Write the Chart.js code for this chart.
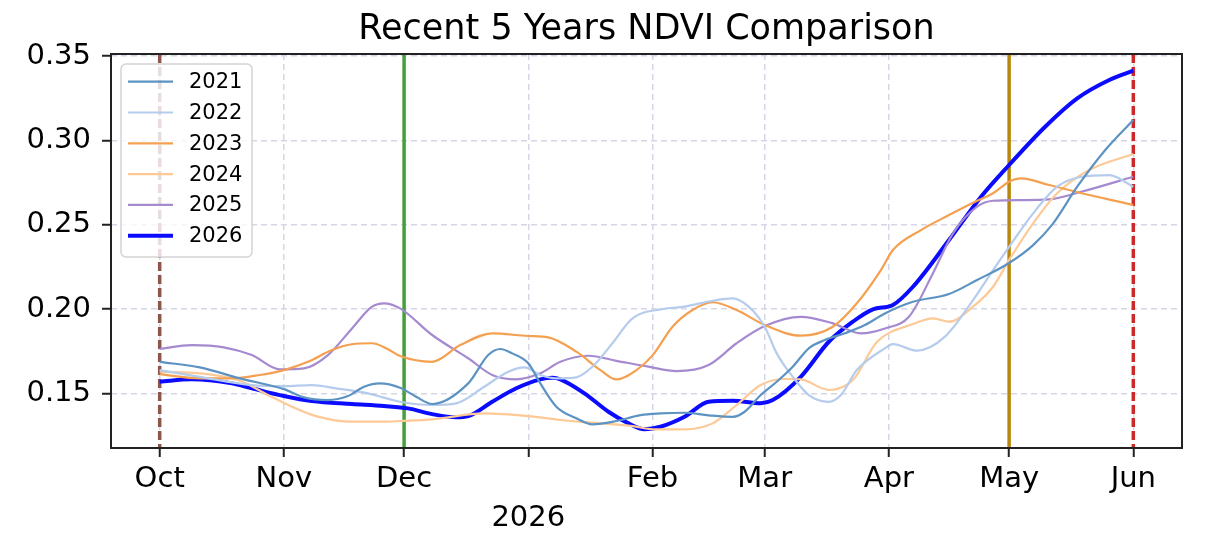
<!DOCTYPE html>
<html>
<head>
<meta charset="utf-8">
<script src="https://cdn.jsdelivr.net/npm/chart.js@4.4.1/dist/chart.umd.min.js"></script>
<style>
  html, body { margin: 0; padding: 0; background: #fff; }
  #wrap { width: 1208px; height: 544px; }
</style>
</head>
<body>
<div id="wrap"><canvas id="ndviChart"></canvas></div>
<script>
// days counted from Oct 1 (2025-10-01 = 0, 2026-06-01 = 243)
const monthTickDays = [0, 31, 61, 92, 123, 151, 182, 212, 243];
const monthTickLabels = ['Oct', 'Nov', 'Dec', ['', '2026'], 'Feb', 'Mar', 'Apr', 'May', 'Jun'];
const yTickValues = [0.15, 0.20, 0.25, 0.30, 0.35];

const seriesLabels = ['2021', '2022', '2023', '2024', '2025', '2026'];

const days2021 = [0, 10, 20, 31, 36, 42, 47, 51, 55, 60, 64, 68, 77, 82, 85, 88, 92, 95, 99, 104, 108, 114, 120, 125, 131, 137, 143, 146, 150, 154, 158, 162, 166, 171, 176, 181, 188, 197, 204, 212, 218, 223, 229, 236, 243];
const ndvi2021 = [0.1687, 0.1654, 0.1589, 0.1525, 0.1476, 0.1460, 0.1484, 0.1539, 0.1559, 0.1533, 0.1480, 0.1437, 0.1559, 0.1727, 0.1763, 0.1737, 0.1678, 0.1559, 0.1421, 0.1352, 0.1316, 0.1336, 0.1371, 0.1381, 0.1385, 0.1370, 0.1361, 0.1391, 0.1490, 0.1569, 0.1658, 0.1767, 0.1816, 0.1856, 0.1905, 0.1974, 0.2043, 0.2089, 0.2172, 0.2273, 0.2379, 0.2508, 0.2725, 0.2943, 0.3121];

const days2022 = [0, 10, 23, 31, 38, 44, 52, 60, 68, 74, 81, 87, 91, 95, 99, 104, 108, 113, 118, 125, 131, 138, 143, 147, 151, 154, 158, 162, 167, 170, 174, 181, 183, 189, 196, 203, 208, 212, 218, 224, 230, 237, 243];
const ndvi2022 = [0.1638, 0.1598, 0.1549, 0.1543, 0.1549, 0.1530, 0.1500, 0.1450, 0.1431, 0.1441, 0.1539, 0.1628, 0.1654, 0.1609, 0.1589, 0.1595, 0.1658, 0.1797, 0.1945, 0.1998, 0.2014, 0.2049, 0.2063, 0.2014, 0.1895, 0.1737, 0.1598, 0.1490, 0.1450, 0.1490, 0.1638, 0.1767, 0.1792, 0.1753, 0.1836, 0.2053, 0.2231, 0.2369, 0.2567, 0.2725, 0.2784, 0.2794, 0.2725];

const days2023 = [0, 10, 18, 25, 31, 37, 43, 48, 53, 57, 60, 68, 75, 83, 92, 97, 104, 110, 114, 119, 123, 128, 133, 138, 144, 151, 160, 168, 174, 180, 183, 190, 197, 203, 208, 212, 215, 222, 232, 243];
const ndvi2023 = [0.1614, 0.1589, 0.1589, 0.1609, 0.1638, 0.1687, 0.1757, 0.1791, 0.1797, 0.1761, 0.1721, 0.1687, 0.1786, 0.1856, 0.1840, 0.1832, 0.1747, 0.1638, 0.1583, 0.1638, 0.1725, 0.1895, 0.1994, 0.2040, 0.1994, 0.1905, 0.1842, 0.1895, 0.2034, 0.2231, 0.2350, 0.2468, 0.2557, 0.2630, 0.2686, 0.2755, 0.2775, 0.2735, 0.2676, 0.2617];

const days2024 = [0, 10, 20, 27, 33, 39, 48, 56, 60, 68, 81, 92, 100, 110, 118, 123, 131, 138, 144, 150, 156, 160, 167, 173, 179, 188, 193, 197, 203, 208, 212, 218, 224, 232, 243];
const ndvi2024 = [0.1628, 0.1619, 0.1575, 0.1490, 0.1421, 0.1365, 0.1332, 0.1332, 0.1336, 0.1346, 0.1381, 0.1365, 0.1342, 0.1322, 0.1306, 0.1287, 0.1287, 0.1322, 0.1431, 0.1549, 0.1585, 0.1583, 0.1520, 0.1579, 0.1804, 0.1911, 0.1945, 0.1925, 0.2014, 0.2132, 0.2291, 0.2508, 0.2686, 0.2824, 0.2919];

const days2025 = [0, 8, 16, 23, 30, 36, 42, 48, 53, 56, 60, 68, 77, 83, 89, 95, 100, 107, 114, 122, 129, 137, 144, 151, 160, 168, 175, 181, 187, 193, 198, 204, 208, 215, 222, 230, 243];
const ndvi2025 = [0.1763, 0.1786, 0.1773, 0.1727, 0.1642, 0.1648, 0.1727, 0.1885, 0.2014, 0.2034, 0.2004, 0.1846, 0.1708, 0.1609, 0.1583, 0.1619, 0.1687, 0.1723, 0.1693, 0.1658, 0.1632, 0.1668, 0.1797, 0.1899, 0.1954, 0.1915, 0.1856, 0.1885, 0.1954, 0.2212, 0.2449, 0.2607, 0.2642, 0.2646, 0.2650, 0.2695, 0.2784];

const days2026 = [0, 8, 18, 23, 31, 38, 48, 56, 62, 68, 74, 77, 83, 89, 95, 98, 100, 106, 112, 117, 121, 125, 131, 137, 143, 150, 153, 160, 167, 173, 178, 183, 188, 197, 205, 212, 221, 229, 237, 243];
const ndvi2026 = [0.1569, 0.1583, 0.1559, 0.1530, 0.1484, 0.1454, 0.1437, 0.1425, 0.1411, 0.1377, 0.1358, 0.1365, 0.1450, 0.1530, 0.1583, 0.1592, 0.1583, 0.1500, 0.1391, 0.1322, 0.1287, 0.1302, 0.1361, 0.1450, 0.1456, 0.1441, 0.1460, 0.1598, 0.1806, 0.1925, 0.1998, 0.2024, 0.2132, 0.2409, 0.2666, 0.2854, 0.3081, 0.3249, 0.3358, 0.3413];

// marker dates: Oct 1, Dec 1, May 1, Jun 1
const markerDays = [0, 61, 212, 243];

const FONT = "'DejaVu Sans', sans-serif";
const X_MIN = -12.15, X_MAX = 255.15;
const Y_MIN = 0.1176, Y_MAX = 0.3512;

const lineColors = ['#5c93c3', '#b6ccec', '#f5a050', '#fdc996', '#a68ad0', '#0b0bff'];
const lineWidths = [2.2, 2.2, 2.2, 2.2, 2.2, 4];
const markerStyles = [
    { color: '#8c564b', dash: [9, 4] },
    { color: '#46a03a', dash: [] },
    { color: '#b8860b', dash: [] },
    { color: '#cc2a2a', dash: [9, 4] }
];

const allDays = [days2021, days2022, days2023, days2024, days2025, days2026];
const allNdvi = [ndvi2021, ndvi2022, ndvi2023, ndvi2024, ndvi2025, ndvi2026];

const datasets = seriesLabels.map((label, i) => ({
    label: label,
    data: allDays[i].map((d, j) => ({ x: d, y: allNdvi[i][j] })),
    borderColor: lineColors[i],
    borderWidth: lineWidths[i],
    pointRadius: 0,
    fill: false,
    cubicInterpolationMode: 'monotone'
}));

// vertical marker lines + frame around the plot
const markersAndFrame = {
    id: 'markersAndFrame',
    beforeDatasetsDraw(chart) {
        const { ctx, chartArea, scales } = chart;
        ctx.save();
        markerDays.forEach((d, i) => {
            const px = scales.x.getPixelForValue(d);
            ctx.strokeStyle = markerStyles[i].color;
            ctx.lineWidth = 3.5;
            ctx.setLineDash(markerStyles[i].dash);
            ctx.beginPath();
            ctx.moveTo(px, chartArea.top);
            ctx.lineTo(px, chartArea.bottom);
            ctx.stroke();
        });
        ctx.restore();
    },
    afterDatasetsDraw(chart) {
        const { ctx, chartArea } = chart;
        ctx.save();
        ctx.setLineDash([]);
        ctx.strokeStyle = '#222';
        ctx.lineWidth = 2;
        ctx.strokeRect(chartArea.left, chartArea.top, chartArea.right - chartArea.left, chartArea.bottom - chartArea.top);
        ctx.restore();
    }
};

function roundedBox(ctx, x, y, w, h, r) {
    ctx.beginPath();
    ctx.moveTo(x + r, y);
    ctx.arcTo(x + w, y, x + w, y + h, r);
    ctx.arcTo(x + w, y + h, x, y + h, r);
    ctx.arcTo(x, y + h, x, y, r);
    ctx.arcTo(x, y, x + w, y, r);
    ctx.closePath();
}

// title and legend box, matplotlib style
const titleAndLegend = {
    id: 'titleAndLegend',
    afterDraw(chart) {
        const { ctx, chartArea } = chart;
        ctx.save();
        ctx.fillStyle = '#000';
        ctx.font = '35px ' + FONT;
        ctx.textAlign = 'center';
        ctx.textBaseline = 'alphabetic';
        ctx.fillText('Recent 5 Years NDVI Comparison', (chartArea.left + chartArea.right) / 2, 38.5);

        const bx = chartArea.left + 10, by = chartArea.top + 10;
        roundedBox(ctx, bx, by, 131, 193, 5);
        ctx.fillStyle = 'rgba(255,255,255,0.8)';
        ctx.fill();
        ctx.strokeStyle = '#d4d4d4';
        ctx.lineWidth = 1.5;
        ctx.stroke();

        ctx.font = '21px ' + FONT;
        ctx.textAlign = 'left';
        ctx.textBaseline = 'middle';
        chart.data.datasets.forEach((ds, i) => {
            const rowY = by + 17.7 + i * 30.8;
            ctx.strokeStyle = ds.borderColor;
            ctx.lineWidth = ds.borderWidth;
            ctx.beginPath();
            ctx.moveTo(bx + 7, rowY);
            ctx.lineTo(bx + 52, rowY);
            ctx.stroke();
            ctx.fillStyle = '#000';
            ctx.fillText(ds.label, bx + 68, rowY + 1);
        });
        ctx.restore();
    }
};

const gridStyle = {
    color: '#d6d6e6',
    lineWidth: 1.5,
    tickColor: '#222',
    tickLength: 9,
    tickWidth: 2,
    tickBorderDash: []
};

new Chart(document.getElementById('ndviChart'), {
    type: 'line',
    data: { datasets: datasets },
    options: {
        responsive: true,
        maintainAspectRatio: false,
        animation: false,
        layout: { padding: { left: 0, right: 26, top: 54, bottom: 0 } },
        plugins: {
            legend: { display: false },
            title: { display: false },
            tooltip: { enabled: false }
        },
        scales: {
            x: {
                type: 'linear',
                min: X_MIN,
                max: X_MAX,
                bounds: 'data',
                afterBuildTicks: function (scale) { scale.ticks = monthTickDays.map(v => ({ value: v })); },
                afterFit: function (scale) { scale.height = 96; },
                grid: gridStyle,
                border: { display: false, dash: [6, 4] },
                ticks: {
                    autoSkip: false,
                    maxRotation: 0,
                    padding: 3,
                    color: '#000',
                    font: { family: FONT, size: 29, lineHeight: 1.35 },
                    callback: function (value) { return monthTickLabels[monthTickDays.indexOf(value)]; }
                }
            },
            y: {
                type: 'linear',
                min: Y_MIN,
                max: Y_MAX,
                bounds: 'data',
                afterBuildTicks: function (scale) { scale.ticks = yTickValues.map(v => ({ value: v })); },
                afterFit: function (scale) { scale.width = 111; },
                grid: gridStyle,
                border: { display: false, dash: [6, 4] },
                ticks: {
                    padding: 11,
                    color: '#000',
                    font: { family: FONT, size: 29 },
                    callback: function (value) { return value.toFixed(2); }
                }
            }
        }
    },
    plugins: [markersAndFrame, titleAndLegend]
});
</script>
</body>
</html>
